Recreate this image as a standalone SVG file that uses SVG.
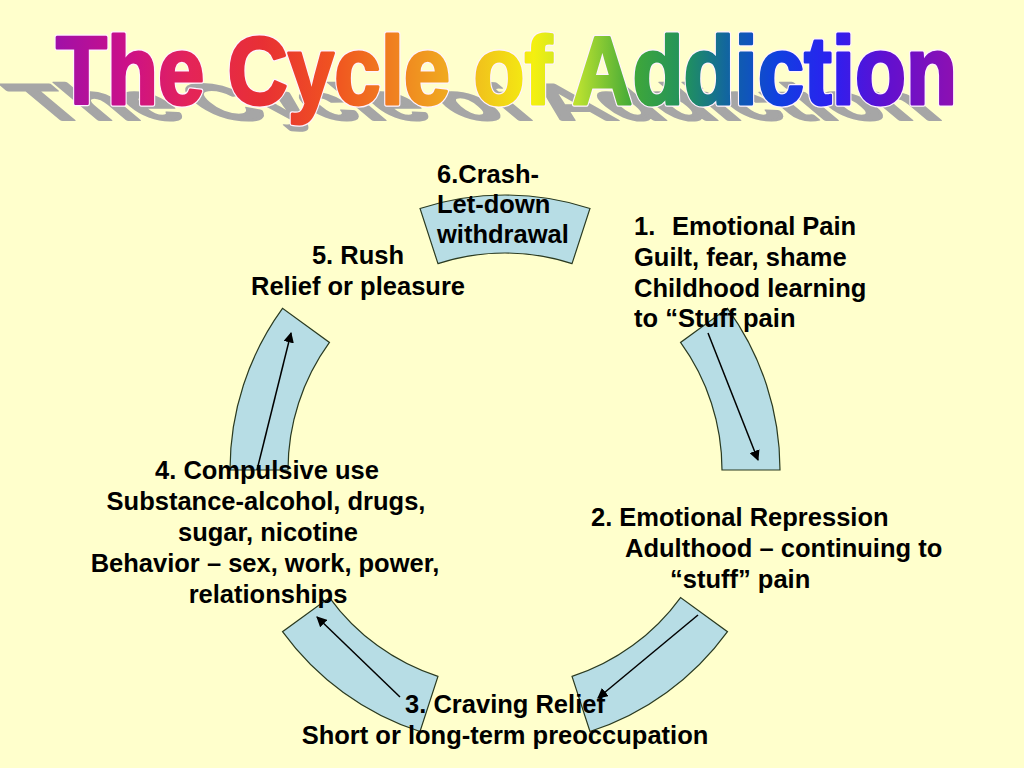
<svg xmlns="http://www.w3.org/2000/svg" width="1024" height="768" viewBox="0 0 1024 768">
<defs>
<linearGradient id="rainbow" gradientUnits="userSpaceOnUse" x1="55" y1="0" x2="958" y2="0">
<stop offset="0" stop-color="#A010A8"/>
<stop offset="0.08" stop-color="#CC1088"/>
<stop offset="0.15" stop-color="#E42458"/>
<stop offset="0.23" stop-color="#E83034"/>
<stop offset="0.31" stop-color="#F05420"/>
<stop offset="0.38" stop-color="#F08420"/>
<stop offset="0.45" stop-color="#F0B420"/>
<stop offset="0.53" stop-color="#F4F010"/>
<stop offset="0.58" stop-color="#B8E030"/>
<stop offset="0.64" stop-color="#40A838"/>
<stop offset="0.70" stop-color="#209060"/>
<stop offset="0.75" stop-color="#1060A8"/>
<stop offset="0.80" stop-color="#1040E0"/>
<stop offset="0.86" stop-color="#2C20F0"/>
<stop offset="0.92" stop-color="#6010D0"/>
<stop offset="1" stop-color="#9010B0"/>
</linearGradient>
<marker id="arrow" viewBox="0 0 10 10" refX="9" refY="5" markerWidth="7" markerHeight="7" markerUnits="strokeWidth" orient="auto">
<path d="M0,0 L10,5 L0,10 Z" fill="#000"/>
</marker>
<style>
.seg{fill:#B7DDE5;stroke:#2A3A20;stroke-width:1.2}
.con{stroke:#000;stroke-width:1.5;fill:none;marker-end:url(#arrow)}
.lbl{font-family:"Liberation Sans",Arial,sans-serif;font-weight:bold;font-size:25.5px;fill:#000}
.mid{text-anchor:middle}
.title{font-family:"Liberation Sans",Arial,sans-serif;font-weight:bold;font-size:97px;stroke-linejoin:round}
</style>
</defs>
<rect width="1024" height="768" fill="#FFFFCC"/>

<g id="title">
<text class="title" fill="#A6A6A6" stroke="#A6A6A6" stroke-width="4" x="42" y="0" textLength="903" lengthAdjust="spacingAndGlyphs" transform="translate(0,120) skewX(50) scale(1,0.53)">The Cycle of Addiction</text>
<text class="title" fill="url(#rainbow)" stroke="#FFF2FF" stroke-width="5.5" x="56" y="104" textLength="901" lengthAdjust="spacingAndGlyphs">The Cycle of Addiction</text>
<text class="title" fill="url(#rainbow)" stroke="url(#rainbow)" stroke-width="3" x="56" y="104" textLength="901" lengthAdjust="spacingAndGlyphs">The Cycle of Addiction</text>
</g>

<g id="segments">
<path id="seg-top" class="seg" d="M420.02,208.45 A275,275 0 0 1 589.98,208.45 L572.05,263.61 A217,217 0 0 0 437.95,263.61 Z"/>
<path id="seg-right" class="seg" d="M727.48,308.35 A275,275 0 0 1 780,470 L722,470 A217,217 0 0 0 680.55,342.45 Z"/>
<path id="seg-bottom-right" class="seg" d="M727.48,631.65 A275,275 0 0 1 589.98,731.55 L572.05,676.39 A217,217 0 0 0 680.55,597.55 Z"/>
<path id="seg-bottom-left" class="seg" d="M420.02,731.55 A275,275 0 0 1 282.52,631.65 L329.45,597.55 A217,217 0 0 0 437.95,676.39 Z"/>
<path id="seg-left" class="seg" d="M230,470 A275,275 0 0 1 282.52,308.35 L329.45,342.45 A217,217 0 0 0 288,470 Z"/>
</g>

<g id="connectors">
<line class="con" x1="708" y1="333" x2="758" y2="460"/>
<line class="con" x1="698" y1="615" x2="598" y2="698"/>
<line class="con" x1="400" y1="697" x2="317" y2="617"/>
<line class="con" x1="257" y1="470" x2="291" y2="333"/>
</g>

<g id="node-6">
<text class="lbl" x="437" y="183">6.Crash-</text>
<text class="lbl" x="437" y="213">Let-down</text>
<text class="lbl" x="437" y="243">withdrawal</text>
</g>

<g id="node-1">
<text class="lbl" x="634" y="235">1.</text>
<text class="lbl" x="672" y="235">Emotional Pain</text>
<text class="lbl" x="634" y="266">Guilt, fear, shame</text>
<text class="lbl" x="634" y="297">Childhood learning</text>
<text class="lbl" x="634" y="327">to “Stuff pain</text>
</g>

<g id="node-2">
<text class="lbl" x="591" y="526">2. Emotional Repression</text>
<text class="lbl" x="625" y="557">Adulthood – continuing to</text>
<text class="lbl" x="670" y="588">“stuff” pain</text>
</g>

<g id="node-3">
<text class="lbl mid" x="505" y="713">3. Craving Relief</text>
<text class="lbl mid" x="505" y="744">Short or long-term preoccupation</text>
</g>

<g id="node-4">
<text class="lbl mid" x="267" y="479">4. Compulsive use</text>
<text class="lbl mid" x="266" y="510">Substance-alcohol, drugs,</text>
<text class="lbl mid" x="268" y="541">sugar, nicotine</text>
<text class="lbl mid" x="265" y="572">Behavior – sex, work, power,</text>
<text class="lbl mid" x="268" y="603">relationships</text>
</g>

<g id="node-5">
<text class="lbl mid" x="358" y="264">5. Rush</text>
<text class="lbl mid" x="358" y="295">Relief or pleasure</text>
</g>
</svg>
